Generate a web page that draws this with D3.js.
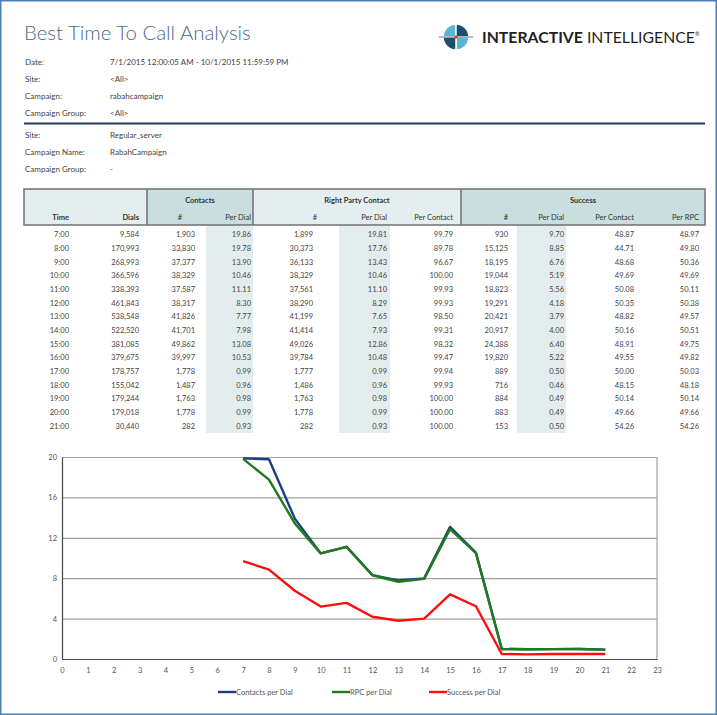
<!DOCTYPE html>
<html>
<head>
<meta charset="utf-8">
<script src="https://cdn.jsdelivr.net/npm/d3@7"></script>
<style>
  body { margin: 0; background: #fff; }
  svg { display: block; font-family: Lato, "Open Sans", sans-serif; }
</style>
</head>
<body>
<svg id="page" width="717" height="715"></svg>
<script>
const hours = [7, 8, 9, 10, 11, 12, 13, 14, 15, 16, 17, 18, 19, 20, 21];
const dials = [9584, 170993, 268993, 366596, 338393, 461843, 538548, 522520, 381085, 379675, 178757, 155042, 179244, 179018, 30440];
const contacts = [1903, 33830, 37377, 38329, 37587, 38317, 41826, 41701, 49862, 39997, 1778, 1487, 1763, 1778, 282];
const contactsPerDial = [19.86, 19.78, 13.90, 10.46, 11.11, 8.30, 7.77, 7.98, 13.08, 10.53, 0.99, 0.96, 0.98, 0.99, 0.93];
const rpc = [1899, 30373, 36133, 38329, 37561, 38290, 41199, 41414, 49026, 39784, 1777, 1486, 1763, 1778, 282];
const rpcPerDial = [19.81, 17.76, 13.43, 10.46, 11.10, 8.29, 7.65, 7.93, 12.86, 10.48, 0.99, 0.96, 0.98, 0.99, 0.93];
const rpcPerContact = [99.79, 89.78, 96.67, 100.00, 99.93, 99.93, 98.50, 99.31, 98.32, 99.47, 99.94, 99.93, 100.00, 100.00, 100.00];
const success = [930, 15125, 18195, 19044, 18823, 19291, 20421, 20917, 24388, 19820, 889, 716, 884, 883, 153];
const successPerDial = [9.70, 8.85, 6.76, 5.19, 5.56, 4.18, 3.79, 4.00, 6.40, 5.22, 0.50, 0.46, 0.49, 0.49, 0.50];
const successPerContact = [48.87, 44.71, 48.68, 49.69, 50.08, 50.35, 48.82, 50.16, 48.91, 49.55, 50.00, 48.15, 50.14, 49.66, 54.26];
const successPerRpc = [48.97, 49.80, 50.36, 49.69, 50.11, 50.38, 49.57, 50.51, 49.75, 49.82, 50.03, 48.18, 50.14, 49.66, 54.26];

const metaTop = [["Date:", "7/1/2015 12:00:05 AM - 10/1/2015 11:59:59 PM"], ["Site:", "<All>"], ["Campaign:", "rabahcampaign"], ["Campaign Group:", "<All>"]];
const metaBottom = [["Site:", "Regular_server"], ["Campaign Name:", "RabahCampaign"], ["Campaign Group:", "-"]];

const seriesNames = ["Contacts per Dial", "RPC per Dial", "Success per Dial"];
const seriesColors = ["#1f3b86", "#1e7b1e", "#ff0d0d"];
const yTicks = [0, 4, 8, 12, 16, 20];
const xTicks = d3.range(0, 24);

const svg = d3.select("#page");
const fmtInt = d3.format(",");
const fmtDec = d3.format(".2f");

// page frame
svg.append("rect")
  .attr("x", 0.75).attr("y", 0.75).attr("width", 715.5).attr("height", 713.5)
  .attr("fill", "#fff").attr("stroke", "#4f7fb8").attr("stroke-width", 1.5);

// title
svg.append("text")
  .attr("x", 24).attr("y", 40)
  .attr("font-size", 20.4).attr("font-weight", 300)
  .attr("fill", "#4a6a8c")
  .text("Best Time To Call Analysis");

// logo
const logo = svg.append("g").attr("transform", "translate(456,37)");
const arc = d3.arc().innerRadius(0).outerRadius(13);
const quads = [["#5ab6d6", -Math.PI / 2, 0], ["#1d4f6c", 0, Math.PI / 2], ["#5ab6d6", Math.PI / 2, Math.PI], ["#1d4f6c", Math.PI, Math.PI * 1.5]];
logo.selectAll("path")
  .data(quads)
  .join("path")
  .attr("d", d => arc({ startAngle: d[1], endAngle: d[2] }))
  .attr("fill", d => d[0])
  .attr("stroke", "#fff")
  .attr("stroke-width", 1.5);
logo.append("line").attr("x1", -17).attr("x2", 17).attr("stroke", "#555").attr("stroke-width", 0.8);
logo.append("circle").attr("r", 1.5).attr("fill", "#d22");

const brand = svg.append("text")
  .attr("x", 482).attr("y", 43)
  .attr("font-size", 15.8).attr("fill", "#231f20");
brand.append("tspan").attr("font-weight", 700).text("INTERACTIVE");
brand.append("tspan").attr("font-weight", 400).text(" INTELLIGENCE");
brand.append("tspan").attr("font-size", 5.5).attr("dy", -7).text("®");

// meta info
function metaBlock(rows, y0) {
  const g = svg.append("g").attr("font-size", 8).attr("fill", "#444");
  rows.forEach((r, i) => {
    g.append("text").attr("x", 25).attr("y", y0 + i * 17).text(r[0]);
    g.append("text").attr("x", 110).attr("y", y0 + i * 17).text(r[1]);
  });
}
metaBlock(metaTop, 65);
svg.append("line")
  .attr("x1", 24).attr("x2", 705).attr("y1", 123.5).attr("y2", 123.5)
  .attr("stroke", "#1f3b5c").attr("stroke-width", 2.2);
metaBlock(metaBottom, 138);

// table
const table = svg.append("g");
const headTop = 189, headBottom = 225;
const groups = [
  { name: "", x0: 24, x1: 147, fill: "#e4eeee" },
  { name: "Contacts", x0: 147, x1: 253, fill: "#c9dede" },
  { name: "Right Party Contact", x0: 253, x1: 461, fill: "#e4eeee" },
  { name: "Success", x0: 461, x1: 705, fill: "#c9dede" }
];
const columns = [
  { label: "Time", right: 69, values: hours.map(h => h + ":00") },
  { label: "Dials", right: 139, values: dials.map(fmtInt) },
  { label: "#", right: 195, headRight: 182, values: contacts.map(fmtInt) },
  { label: "Per Dial", right: 251, values: contactsPerDial.map(fmtDec), shade: [206, 253] },
  { label: "#", right: 313, headRight: 317, values: rpc.map(fmtInt) },
  { label: "Per Dial", right: 387, values: rpcPerDial.map(fmtDec), shade: [339, 390] },
  { label: "Per Contact", right: 453, values: rpcPerContact.map(fmtDec) },
  { label: "#", right: 508, values: success.map(fmtInt) },
  { label: "Per Dial", right: 564, values: successPerDial.map(fmtDec), shade: [517, 566] },
  { label: "Per Contact", right: 634, values: successPerContact.map(fmtDec) },
  { label: "Per RPC", right: 699, values: successPerRpc.map(fmtDec) }
];

const rowY = d3.scaleBand().domain(hours).range([228, 433]);

table.selectAll("rect.group")
  .data(groups)
  .join("rect")
  .attr("class", "group")
  .attr("x", d => d.x0).attr("y", headTop)
  .attr("width", d => d.x1 - d.x0).attr("height", headBottom - headTop)
  .attr("fill", d => d.fill);

table.selectAll("rect.shade")
  .data(columns.filter(c => c.shade))
  .join("rect")
  .attr("class", "shade")
  .attr("x", d => d.shade[0]).attr("y", headBottom)
  .attr("width", d => d.shade[1] - d.shade[0]).attr("height", 433 - headBottom)
  .attr("fill", "#e3eded");

table.append("rect")
  .attr("x", 24).attr("y", headTop).attr("width", 681).attr("height", headBottom - headTop)
  .attr("fill", "none").attr("stroke", "#6f7070").attr("stroke-width", 1.5);
table.selectAll("line.sep")
  .data(groups.slice(1))
  .join("line")
  .attr("class", "sep")
  .attr("x1", d => d.x0).attr("x2", d => d.x0)
  .attr("y1", headTop).attr("y2", headBottom)
  .attr("stroke", "#6f7070").attr("stroke-width", 1.5);

table.selectAll("text.gname")
  .data(groups.filter(g => g.name))
  .join("text")
  .attr("class", "gname")
  .attr("x", d => (d.x0 + d.x1) / 2).attr("y", 203)
  .attr("text-anchor", "middle")
  .attr("font-size", 7.5).attr("font-weight", 700).attr("fill", "#333")
  .text(d => d.name);

table.selectAll("text.clabel")
  .data(columns)
  .join("text")
  .attr("class", "clabel")
  .attr("x", d => d.headRight || d.right).attr("y", 220)
  .attr("text-anchor", "end")
  .attr("font-size", 7.5).attr("font-weight", d => d.label === "Time" || d.label === "Dials" ? 700 : 400)
  .attr("fill", "#333")
  .text(d => d.label);

columns.forEach(col => {
  table.append("g")
    .selectAll("text")
    .data(col.values)
    .join("text")
    .attr("x", col.right)
    .attr("y", (d, i) => rowY(hours[i]) + rowY.bandwidth() / 2)
    .attr("dy", "0.35em")
    .attr("text-anchor", "end")
    .attr("font-size", 7.5).attr("fill", "#444")
    .text(d => d);
});

// chart
const x = d3.scaleLinear().domain([0, 23]).range([62, 657]);
const y = d3.scaleLinear().domain([0, 20]).range([659, 457]);
const chart = svg.append("g");

chart.append("g")
  .attr("transform", "translate(62,0)")
  .call(d3.axisLeft(y).tickValues(yTicks).tickSize(-(657 - 62)).tickFormat(""))
  .call(g => g.select(".domain").remove())
  .call(g => g.selectAll("line").attr("stroke", "#a0a0a0").attr("stroke-width", 1.2));

chart.append("line")
  .attr("x1", 657).attr("x2", 657).attr("y1", 457).attr("y2", 659)
  .attr("stroke", "#a0a0a0").attr("stroke-width", 1.2);

chart.append("g")
  .attr("transform", "translate(62,0)")
  .call(d3.axisLeft(y).tickValues(yTicks).tickSize(0).tickPadding(5))
  .call(g => g.select(".domain").attr("stroke", "#444").attr("stroke-width", 1.2))
  .call(g => g.selectAll("text").attr("font-size", 7.5).attr("fill", "#555").attr("font-family", "Lato"));

chart.append("g")
  .attr("transform", "translate(0,659)")
  .call(d3.axisBottom(x).tickValues(xTicks).tickSize(0).tickPadding(9))
  .call(g => g.select(".domain").attr("stroke", "#444").attr("stroke-width", 1.2))
  .call(g => g.selectAll("text").attr("font-size", 7.5).attr("fill", "#555").attr("font-family", "Lato"));

const seriesData = [contactsPerDial, rpcPerDial, successPerDial];
const line = d3.line().x((d, i) => x(hours[i])).y(d => y(d));
chart.selectAll("path.series")
  .data(seriesData)
  .join("path")
  .attr("class", "series")
  .attr("d", line)
  .attr("fill", "none")
  .attr("stroke", (d, i) => seriesColors[i])
  .attr("stroke-width", 2.4)
  .attr("stroke-linejoin", "round");

// legend
const legendX = [218, 332, 429];
const legend = chart.selectAll("g.legend")
  .data(seriesNames)
  .join("g")
  .attr("class", "legend")
  .attr("transform", (d, i) => `translate(${legendX[i]},692)`);
legend.append("line")
  .attr("x1", 0).attr("x2", 18)
  .attr("stroke", (d, i) => seriesColors[i]).attr("stroke-width", 2.4);
legend.append("text")
  .attr("x", 18).attr("dy", "0.35em")
  .attr("font-size", 7.5).attr("fill", "#555")
  .text(d => d);
</script>
</body>
</html>
